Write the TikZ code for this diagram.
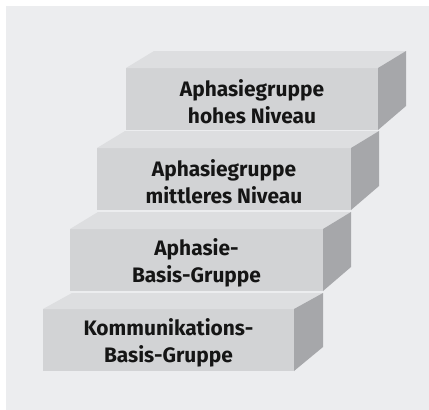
\documentclass[tikz,border=0pt]{standalone}
\usepackage{fontspec}
\setmainfont{Fira Sans}
\definecolor{bgc}{HTML}{ECEDEF}
\definecolor{frontc}{HTML}{D2D3D5}
\definecolor{topc}{HTML}{DDDEE0}
\definecolor{sidec}{HTML}{A6A7AA}
\definecolor{txtc}{HTML}{151515}
\begin{document}
\begin{tikzpicture}[x=1bp,y=-1bp,
  front/.style={fill=frontc, draw=none, inner sep=0pt, outer sep=0pt,
    minimum height=62bp},
  txt/.style={inner sep=0pt, align=center, text=txtc,
    font=\bfseries\fontsize{21}{27}\selectfont},
  topface/.style={fill=topc, draw=none},
  sideface/.style={fill=sidec, draw=none}]
\useasboundingbox (0,0) rectangle (429,410);
\fill[white] (0,0) rectangle (429,410);
\fill[bgc] (6,6) rectangle (429,410);
% box 1
\node[front, minimum width=252bp, anchor=north west] (b1) at (126,68) {};
\fill[topface] (b1.north west) -- ++(28,-17) -- ([shift={(28,-17)}]b1.north east) -- (b1.north east) -- cycle;
\fill[sideface] (b1.north east) -- ++(28,-17) -- ([shift={(28,-24)}]b1.south east) -- (b1.south east) -- cycle;
\node[txt] (t1) at ([yshift=-2.5bp]b1.center) {Aphasiegruppe\\hohes Niveau};
% box 2
\node[front, minimum width=254bp, anchor=north west] (b2) at (97,148) {};
\fill[topface] (b2.north west) -- ++(28,-17) -- ([shift={(28,-17)}]b2.north east) -- (b2.north east) -- cycle;
\fill[sideface] (b2.north east) -- ++(28,-17) -- ([shift={(28,-24)}]b2.south east) -- (b2.south east) -- cycle;
\node[txt] (t2) at ([yshift=-2.5bp]b2.center) {Aphasiegruppe\\mittleres Niveau};
% box 3
\node[front, minimum width=253bp, anchor=north west] (b3) at (70,229) {};
\fill[topface] (b3.north west) -- ++(28,-17) -- ([shift={(28,-17)}]b3.north east) -- (b3.north east) -- cycle;
\fill[sideface] (b3.north east) -- ++(28,-17) -- ([shift={(28,-24)}]b3.south east) -- (b3.south east) -- cycle;
\node[txt] (t3) at ([yshift=-2.5bp]b3.center) {Aphasie-\\Basis-Gruppe};
% box 4
\node[front, minimum width=251bp, anchor=north west] (b4) at (43,309) {};
\fill[topface] (b4.north west) -- ++(29,-16) -- ([shift={(29,-16)}]b4.north east) -- (b4.north east) -- cycle;
\fill[sideface] (b4.north east) -- ++(29,-16) -- ([shift={(29,-24)}]b4.south east) -- (b4.south east) -- cycle;
\node[txt] (t4) at ([yshift=-2.5bp]b4.center) {Kommunikations-\\Basis-Gruppe};
\end{tikzpicture}
\end{document}
